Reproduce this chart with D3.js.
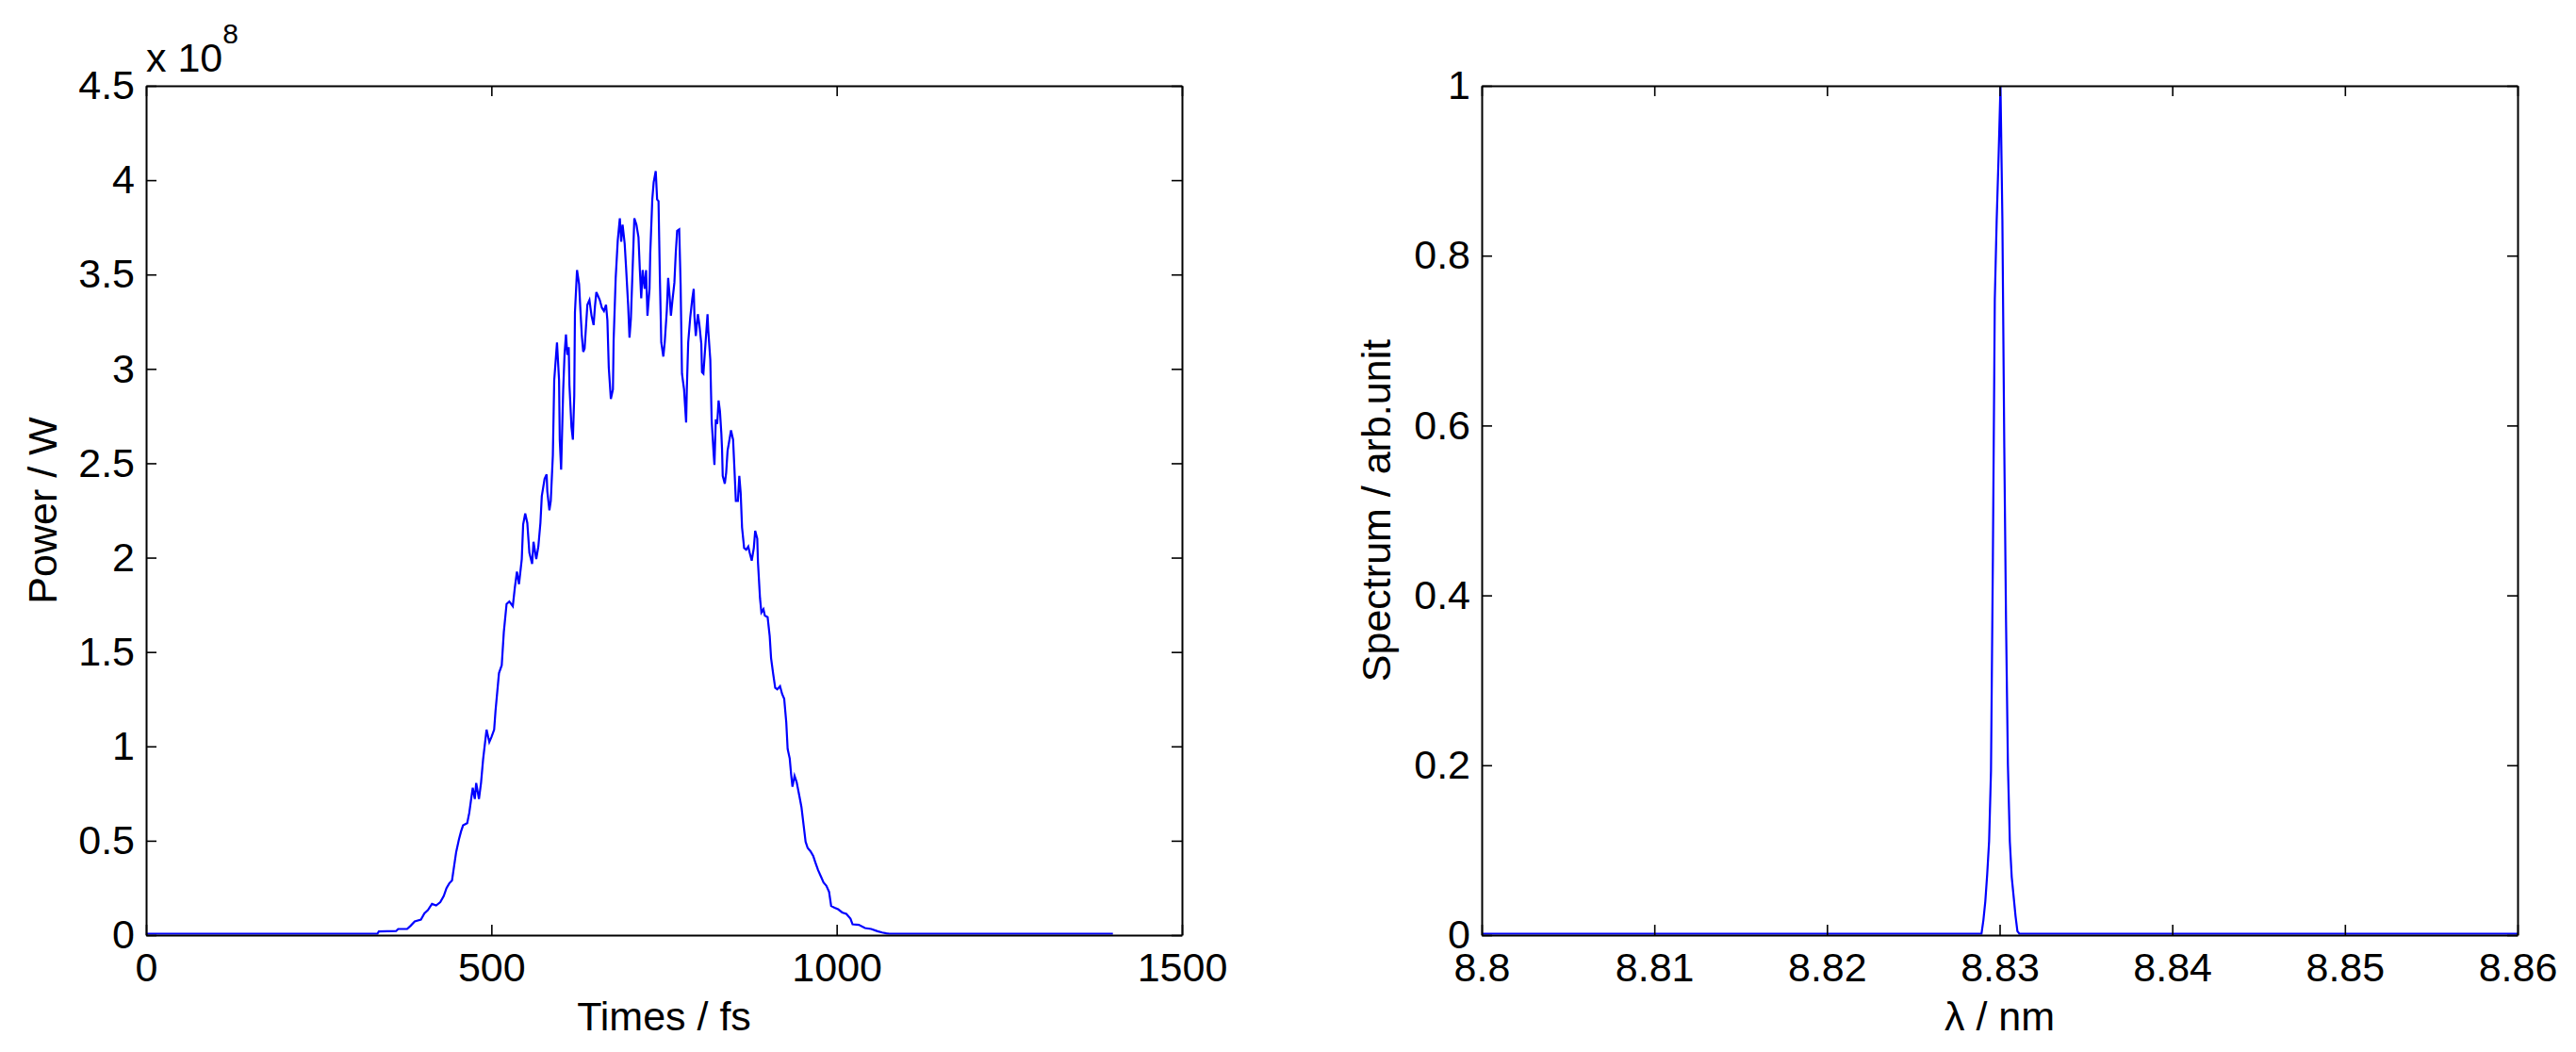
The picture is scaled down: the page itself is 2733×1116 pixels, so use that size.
<!DOCTYPE html>
<html><head><meta charset="utf-8">
<script src="https://cdn.jsdelivr.net/npm/d3@7"></script>
<style>
body{margin:0;background:#fff;}
svg{display:block;}
text{font-family:"Liberation Sans",Arial,Helvetica,sans-serif;fill:#000;}
</style>
</head><body>
<svg id="chart" width="2733" height="1116"></svg>
<script>
// ---- data: time-domain power (x 1e8 W) ----
const timeFs = [0,335,337,362,365,378,383,389,398,403,408,414,420,426,431,435,439,443,445,449,453,456,459,465,468,473,476,478,482,485,488,493,497,500,504,506,511,515,518,522,526,531,534,537,540,544,546,549,552,555,559,561,565,568,571,573,577,580,581,584,586,589,591,595,598,599,601,604,606,608,610,612,613,616,618,620,621,624,627,629,631,633,635,637,639,642,645,648,650,652,654,657,660,663,666,668,670,673,676,677,680,683,686,688,690,693,695,698,700,702,705,707,710,713,715,717,719,722,724,726,729,730,733,735,738,740,742,744,746,749,751,754,756,758,760,762,765,767,769,772,774,776,779,782,783,785,788,791,793,794,796,799,801,804,805,807,810,813,814,817,819,822,823,825,827,829,831,833,834,835,838,840,842,844,847,850,852,854,857,859,861,863,866,869,872,874,877,880,882,885,886,889,891,894,896,900,903,905,908,911,914,918,921,924,927,929,932,934,936,939,942,946,949,952,955,958,962,966,969,973,977,981,985,989,992,997,1002,1008,1014,1020,1023,1032,1041,1050,1059,1066,1072,1076,1400];
const powerE8 = [0,0,0.012,0.014,0.025,0.025,0.042,0.065,0.075,0.108,0.125,0.158,0.15,0.167,0.2,0.242,0.267,0.283,0.333,0.433,0.5,0.542,0.575,0.587,0.642,0.775,0.715,0.8,0.715,0.8,0.925,1.083,1.017,1.042,1.083,1.183,1.383,1.425,1.6,1.75,1.763,1.738,1.838,1.922,1.855,1.988,2.172,2.23,2.18,2.022,1.963,2.08,1.988,2.055,2.18,2.322,2.413,2.438,2.347,2.247,2.297,2.538,2.938,3.138,2.938,2.622,2.463,2.888,3.08,3.18,3.072,3.113,2.913,2.688,2.622,2.855,3.297,3.522,3.447,3.305,3.172,3.088,3.105,3.222,3.338,3.363,3.28,3.23,3.33,3.405,3.388,3.363,3.322,3.305,3.338,3.255,3.005,2.838,2.888,3.147,3.48,3.68,3.797,3.672,3.763,3.663,3.538,3.338,3.163,3.263,3.58,3.797,3.763,3.697,3.522,3.372,3.522,3.422,3.522,3.28,3.422,3.605,3.897,3.988,4.047,3.897,3.888,3.48,3.138,3.063,3.138,3.305,3.48,3.388,3.28,3.355,3.455,3.613,3.73,3.738,3.447,2.972,2.888,2.713,2.888,3.138,3.272,3.372,3.422,3.28,3.172,3.288,3.238,3.13,2.98,2.972,3.13,3.288,3.205,3.047,2.722,2.538,2.488,2.73,2.705,2.83,2.772,2.655,2.572,2.43,2.388,2.447,2.563,2.605,2.672,2.622,2.463,2.297,2.297,2.43,2.338,2.155,2.047,2.038,2.055,2.022,1.98,2.047,2.138,2.097,1.972,1.78,1.705,1.722,1.688,1.68,1.58,1.463,1.38,1.305,1.297,1.313,1.272,1.247,1.122,0.98,0.93,0.847,0.78,0.838,0.805,0.73,0.672,0.58,0.488,0.455,0.438,0.413,0.38,0.338,0.305,0.272,0.255,0.222,0.147,0.138,0.13,0.113,0.105,0.08,0.05,0.047,0.03,0.025,0.013,0.006,0.002,0,0];

// ---- data: spectrum ----
const wavelengthNm = [8.8,8.82895,8.82906,8.82917,8.82928,8.82939,8.8295,8.82961,8.82972,8.82983,8.82994,8.83005,8.83016,8.83027,8.83037,8.83048,8.83059,8.8307,8.83081,8.83092,8.83103,8.83114,8.86];
const spectrum = [0,0,0.016,0.038,0.07,0.109,0.192,0.444,0.748,0.842,0.917,1.0,0.842,0.573,0.37,0.199,0.109,0.067,0.044,0.021,0.003,0,0];

// ---- ticks ----
const timeTicks = [0,500,1000,1500];
const powerTicks = [0,0.5,1,1.5,2,2.5,3,3.5,4,4.5];
const lambdaTicks = [8.8,8.81,8.82,8.83,8.84,8.85,8.86];
const spectrumTicks = [0,0.2,0.4,0.6,0.8,1];

const svg = d3.select("#chart");
const TOP = 91, BOTTOM = 992, FS = 43, TICK = 11;

function panel(o) {
  const x = d3.scaleLinear().domain(o.xDomain).range([o.left, o.right]);
  const y = d3.scaleLinear().domain(o.yDomain).range([BOTTOM - 1.5, TOP]);
  const g = svg.append("g");
  const line = d3.line().x((d, i) => x(o.xs[i])).y(d => y(d));
  g.append("path").datum(o.ys).attr("d", line)
    .attr("fill", "none").attr("stroke", "#0000ff").attr("stroke-width", 2.2)
    .attr("stroke-linejoin", "miter");

  const fmt = d => String(d);
  const styleAxis = sel => {
    sel.select(".domain").attr("stroke", "#000").attr("stroke-width", 2);
    sel.selectAll(".tick line").attr("stroke", "#000").attr("stroke-width", 1.6);
    sel.selectAll("text").attr("font-size", FS).attr("font-family", '"Liberation Sans",Arial,sans-serif').attr("fill", "#000");
  };
  g.append("g").attr("transform", `translate(0,${BOTTOM})`)
    .call(d3.axisBottom(x).tickValues(o.xTicks).tickFormat(fmt).tickSize(-TICK).tickSizeOuter(0).tickPadding(18))
    .call(styleAxis);
  g.append("g").attr("transform", `translate(0,${TOP})`)
    .call(d3.axisTop(x).tickValues(o.xTicks).tickFormat("").tickSize(-TICK).tickSizeOuter(0))
    .call(styleAxis);
  g.append("g").attr("transform", `translate(${o.left},0)`)
    .call(d3.axisLeft(y.copy().range([BOTTOM, TOP])).tickValues(o.yTicks).tickFormat(fmt).tickSize(-TICK).tickSizeOuter(0).tickPadding(12))
    .call(styleAxis);
  g.append("g").attr("transform", `translate(${o.right},0)`)
    .call(d3.axisRight(y.copy().range([BOTTOM, TOP])).tickValues(o.yTicks).tickFormat("").tickSize(-TICK).tickSizeOuter(0))
    .call(styleAxis);

  g.append("text").attr("x", (o.left + o.right) / 2).attr("y", 1093)
    .attr("text-anchor", "middle").attr("font-size", FS).text(o.xLabel);
  g.append("text").attr("transform", `translate(${o.yLabelX},${(TOP + BOTTOM) / 2}) rotate(-90)`)
    .attr("text-anchor", "middle").attr("font-size", FS).text(o.yLabel);
  return {x, y, g};
}

panel({left: 155, right: 1254, xDomain: [0, 1500], yDomain: [0, 4.5],
  xs: timeFs, ys: powerE8, xTicks: timeTicks, yTicks: powerTicks,
  xLabel: "Times / fs", yLabel: "Power / W", yLabelX: 60});

panel({left: 1572, right: 2671, xDomain: [8.8, 8.86], yDomain: [0, 1],
  xs: wavelengthNm, ys: spectrum, xTicks: lambdaTicks, yTicks: spectrumTicks,
  xLabel: "λ / nm", yLabel: "Spectrum / arb.unit", yLabelX: 1475});

// exponent label
const ex = svg.append("text").attr("x", 155).attr("y", 76).attr("font-size", FS);
ex.append("tspan").text("x 10");
ex.append("tspan").attr("dy", -30).attr("font-size", 30).text("8");
</script>
</body></html>
